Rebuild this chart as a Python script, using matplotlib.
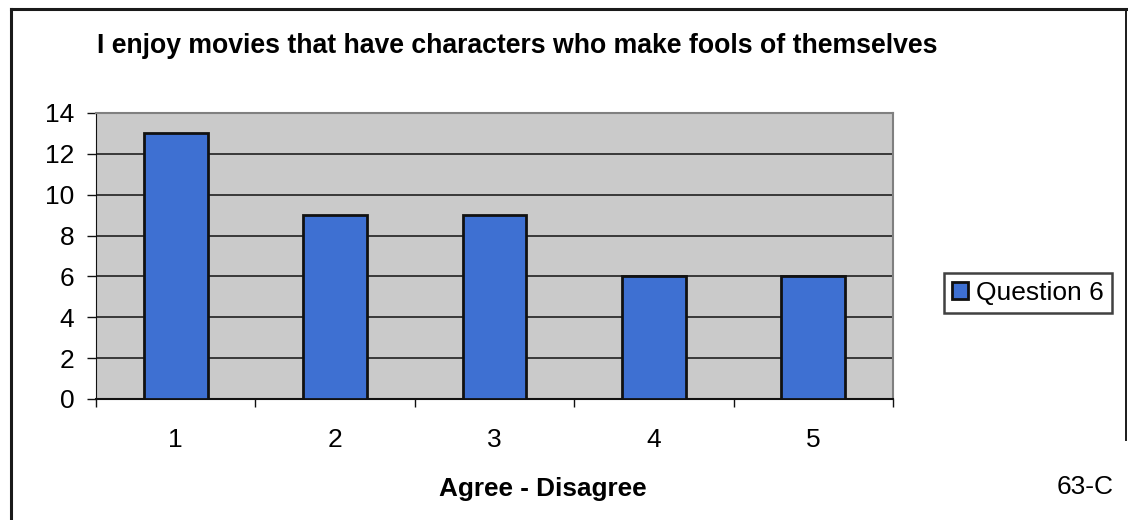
import matplotlib
matplotlib.use("Agg")
import matplotlib.pyplot as plt
from matplotlib.lines import Line2D

categories = ["1", "2", "3", "4", "5"]
values = [13, 9, 9, 6, 6]
yticks = [0, 2, 4, 6, 8, 10, 12, 14]
series_name = "Question 6"
title = "I enjoy movies that have characters who make fools of themselves"
xlabel = "Agree - Disagree"
corner_note = "63-C"

plt.rcParams['font.family'] = ['Liberation Sans', 'DejaVu Sans']

W, H = 1128, 520
fig = plt.figure(figsize=(W / 100, H / 100), dpi=100)
fig.patch.set_facecolor("white")

def fx(x):
    return x / W

def fy(y):
    return 1 - y / H

# outer frame lines
fig.add_artist(Line2D([fx(11), fx(11)], [fy(9), fy(520)], color="#1a1a1a", lw=2.2))
fig.add_artist(Line2D([fx(11), fx(1127)], [fy(9), fy(9)], color="#1a1a1a", lw=2.2))
fig.add_artist(Line2D([fx(1126), fx(1126)], [fy(9), fy(440)], color="#1a1a1a", lw=1.4))

ax = fig.add_axes([fx(96), fy(399), fx(893) - fx(96), fy(113) - fy(399)])
ax.set_facecolor("#cacaca")
x = list(range(len(categories)))
ax.set_axisbelow(True)
ax.yaxis.grid(True, color="#111111", lw=1.1)
ax.bar(x, values, width=0.4, color="#3e70d2", edgecolor="#111111", linewidth=2, zorder=3,
       label=series_name)
ax.set_xlim(-0.5, len(categories) - 0.5)
ax.set_ylim(0, 14)
ax.set_yticks(yticks)
ax.set_yticklabels([str(t) for t in yticks], fontsize=19)
ax.set_xticks(x)
ax.set_xticklabels(categories, fontsize=19)
ax.tick_params(axis="x", length=0, pad=21)
ax.set_xticks([i - 0.5 for i in range(len(categories) + 1)], minor=True)
ax.tick_params(axis="x", which="minor", length=6, width=1, color="#111111")
ax.tick_params(axis="y", length=6.5, width=1, color="#111111", pad=9)
for s in ["top", "right"]:
    ax.spines[s].set_color("#808080")
    ax.spines[s].set_linewidth(1.5)
ax.spines["left"].set_color("#111111")
ax.spines["bottom"].set_color("#111111")
ax.spines["bottom"].set_linewidth(1.5)

fig.text(fx(517), fy(46), title, fontsize=19.2, fontweight="bold", ha="center", va="center")
fig.text(fx(543), fy(489), xlabel, fontsize=18.8, fontweight="bold", ha="center", va="center")
fig.text(fx(1114), fy(487), corner_note, fontsize=19, ha="right", va="center")

leg = fig.legend(loc="center", bbox_to_anchor=(fx(1028), fy(293)), fontsize=19, frameon=True,
                 fancybox=False, edgecolor="#111111", handlelength=0.6, handleheight=0.6,
                 handletextpad=0.3, borderpad=0.3, borderaxespad=0)
leg.get_frame().set_linewidth(1.8)

fig.savefig("out.png", dpi=100)
